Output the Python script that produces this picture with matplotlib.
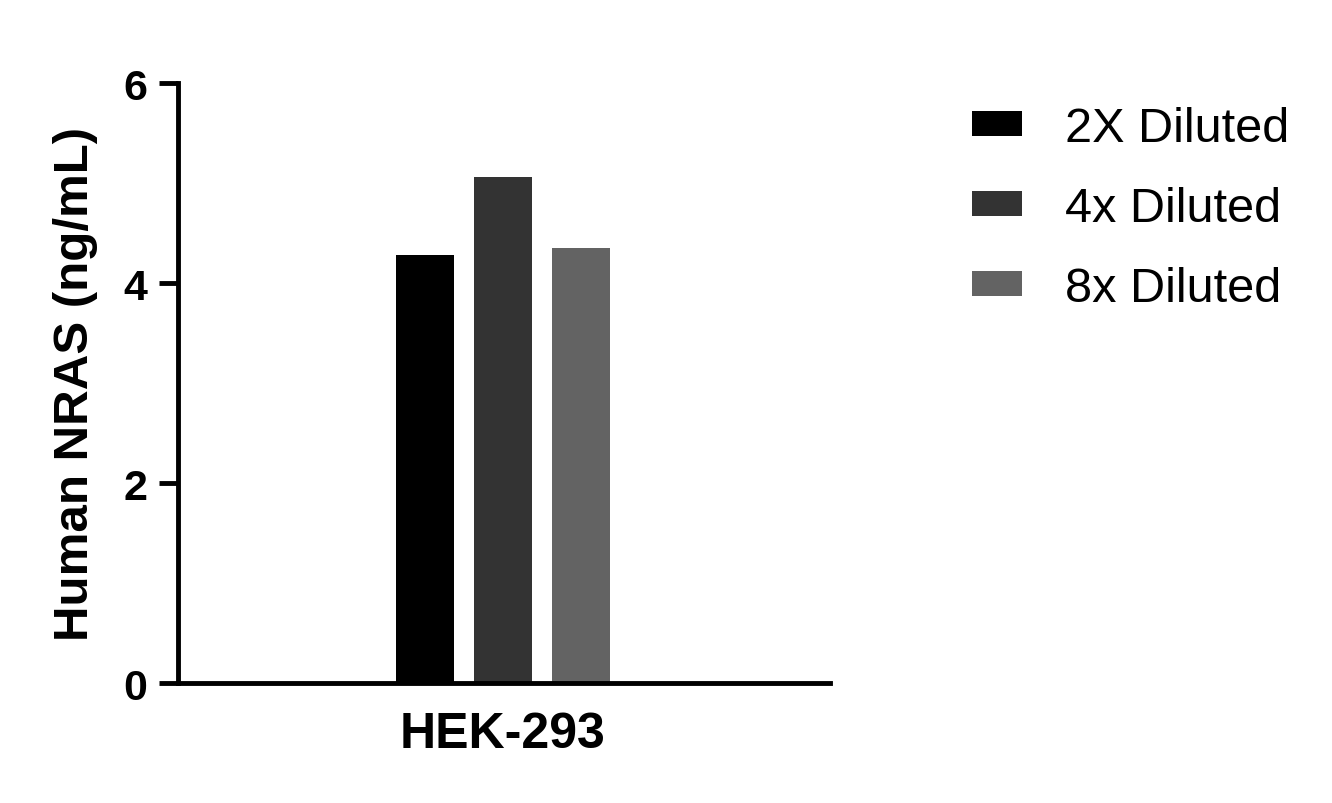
import matplotlib
matplotlib.use("Agg")
import matplotlib.pyplot as plt
from matplotlib.patches import Patch

categories = ["HEK-293"]
series = ["2X Diluted", "4x Diluted", "8x Diluted"]
values = [4.28, 5.06, 4.35]
colors = ["#000000", "#333333", "#636363"]
yticks = [0, 2, 4, 6]

plt.rcParams['font.family'] = ['Liberation Sans', 'DejaVu Sans']

fig = plt.figure(figsize=(13.32, 8.04), dpi=100)
ax = fig.add_axes([0.1336, 0.149, 0.4895, 0.7465])

width = 0.58
offsets = [-0.78, 0.0, 0.78]
for v, c, o in zip(values, colors, offsets):
    ax.bar(o, v, width=width, color=c)

ax.set_xlim(-3.25, 3.27)
ax.set_ylim(0, 6)
ax.set_yticks(yticks)
ax.set_yticklabels([str(t) for t in yticks], fontsize=31, fontweight='bold')
ax.set_xticks([0])
ax.set_xticklabels(categories, fontsize=36, fontweight='bold')
ax.tick_params(axis='x', length=0, pad=20)
ax.tick_params(axis='y', length=14, width=3.5, pad=8)
for s in ['top', 'right']:
    ax.spines[s].set_visible(False)
for s in ['left', 'bottom']:
    ax.spines[s].set_linewidth(3.5)
ax.set_ylabel("Human NRAS (ng/mL)", fontsize=35.5, fontweight='bold', labelpad=18)

handles = [Patch(facecolor=c, edgecolor='none') for c in colors]
leg = fig.legend(handles, series, loc='upper left', bbox_to_anchor=(0.7297, 0.867),
                 frameon=False, fontsize=35, handlelength=1.03, handleheight=0.41,
                 labelspacing=0.72, handletextpad=0.88, borderpad=0, borderaxespad=0)

fig.savefig("out.png", dpi=100)
